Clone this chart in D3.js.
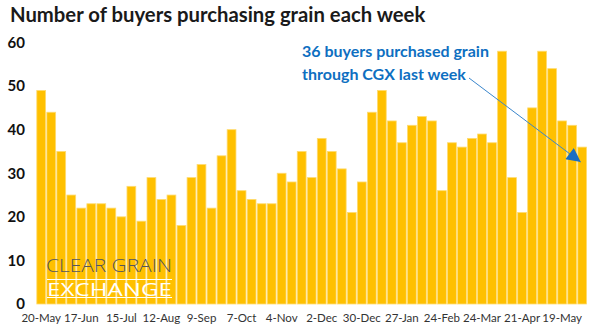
<!DOCTYPE html>
<html><head><meta charset="utf-8">
<script src="https://cdn.jsdelivr.net/npm/d3@7"></script>
<style>body{margin:0;background:#fff;}svg{display:block;}</style>
</head><body>
<svg id="c" width="602" height="335"></svg>
<script>
const values = [49,44,35,25,22,23,23,22,20,27,19,29,24,25,18,29,32,22,34,40,26,24,23,23,30,28,35,29,38,35,31,21,28,44,49,42,37,41,43,42,26,37,36,38,39,37,58,29,21,45,58,54,42,41,36];
const tickLabels = ["20-May","17-Jun","15-Jul","12-Aug","9-Sep","7-Oct","4-Nov","2-Dec","30-Dec","27-Jan","24-Feb","24-Mar","21-Apr","19-May"];
const yTicks = [0,10,20,30,40,50,60];
const title = "Number of buyers purchasing grain each week";
const note = ["36 buyers purchased grain","through CGX last week"];

const svg = d3.select("#c");
const font = "Lato, 'Open Sans', sans-serif";
const idx = values.map((d,i)=>i);
const x = d3.scaleBand().domain(idx).range([36.2,587.2]).paddingInner(0.12).paddingOuter(0.06);
const y = d3.scaleLinear().domain([0,60]).range([304,42.5]);

svg.append("text").attr("x",10).attr("y",22).attr("font-family",font).attr("font-weight","bold")
  .attr("font-size",20.3).attr("fill","#1a1a1a").text(title);

svg.append("g").selectAll("rect").data(values).join("rect")
  .attr("x",(d,i)=>x(i)).attr("width",x.bandwidth())
  .attr("y",d=>y(d)).attr("height",d=>y(0)-y(d))
  .attr("fill","#FFC000").attr("stroke","#FFDB70").attr("stroke-width",0.8);

// y axis
const ya = svg.append("g").attr("transform","translate(25,0)")
  .call(d3.axisLeft(y).tickValues(yTicks).tickSize(0).tickPadding(0));
ya.select(".domain").remove();
ya.selectAll("text").attr("font-family",font).attr("font-weight","bold").attr("font-size",15).attr("fill","#111");

// x axis
const xa = svg.append("g").attr("transform","translate(0,310)")
  .call(d3.axisBottom(x).tickValues(idx.filter(i=>i%4===0)).tickFormat(i=>tickLabels[i/4]).tickSize(0).tickPadding(4));
xa.select(".domain").remove();
xa.selectAll("text").attr("font-family",font).attr("font-size",11.5).attr("fill","#333");

// watermark
svg.append("text").attr("x",46).attr("y",271.5).attr("font-family","'Open Sans', sans-serif").attr("font-weight",300)
  .attr("font-size",19).attr("fill","#55555e").attr("textLength",126).attr("lengthAdjust","spacingAndGlyphs").text("CLEAR GRAIN");
svg.append("text").attr("x",47).attr("y",295.5).attr("font-family","'Open Sans', sans-serif").attr("font-weight",400)
  .attr("font-size",19).attr("fill","#fff").attr("textLength",125).attr("lengthAdjust","spacingAndGlyphs").text("EXCHANGE");
svg.append("line").attr("x1",47).attr("x2",172).attr("y1",279.5).attr("y2",279.5).attr("stroke","#fff").attr("stroke-width",1);
svg.append("line").attr("x1",47).attr("x2",172).attr("y1",297.5).attr("y2",297.5).attr("stroke","#fff").attr("stroke-width",1);

// annotation
svg.append("text").attr("x",302).attr("y",57).attr("font-family",font).attr("font-weight","bold")
  .attr("font-size",16).attr("fill","#0E6FC1").text(note[0]);
svg.append("text").attr("x",302).attr("y",80).attr("font-family",font).attr("font-weight","bold")
  .attr("font-size",16).attr("fill","#0E6FC1").text(note[1]);

const last = values.length-1;
const tipX = x(last)+3, tipY = y(values[last])+15;
svg.append("defs").append("marker").attr("id","ah").attr("viewBox","0 0 10 10").attr("refX",10).attr("refY",5)
  .attr("markerWidth",15).attr("markerHeight",14).attr("markerUnits","userSpaceOnUse").attr("orient","auto")
  .append("path").attr("d","M0,0L10,5L0,10Z").attr("fill","#1B6EC2");
svg.append("line").attr("x1",469).attr("y1",78).attr("x2",tipX).attr("y2",tipY)
  .attr("stroke","#3A86CC").attr("stroke-width",1).attr("marker-end","url(#ah)");
</script>
</body></html>
